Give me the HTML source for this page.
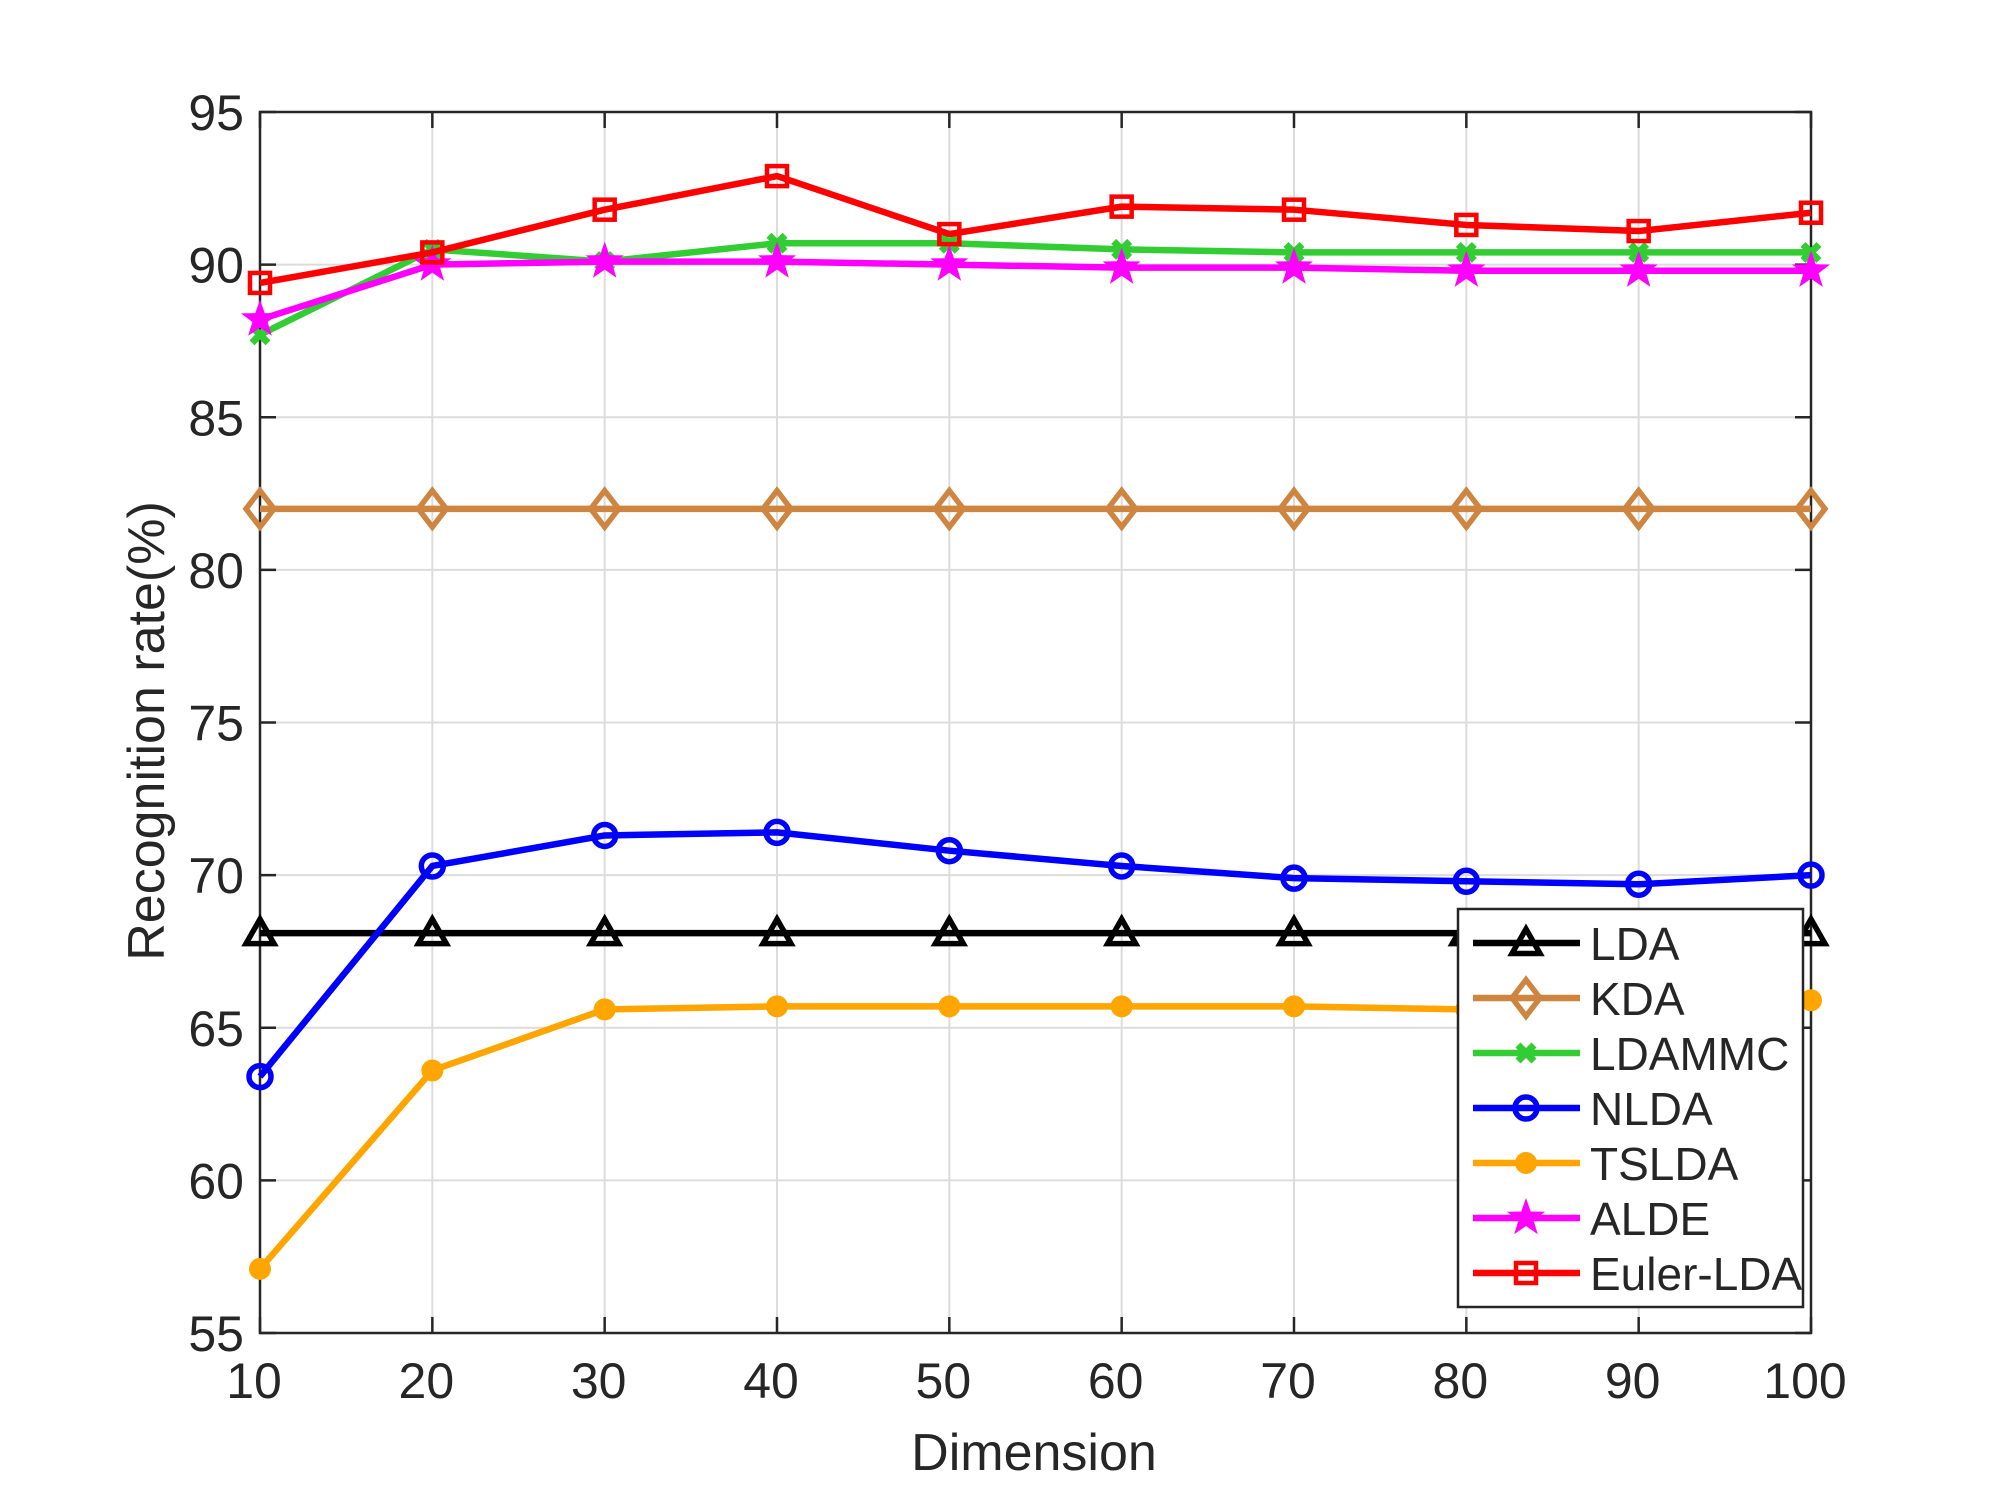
<!DOCTYPE html>
<html><head><meta charset="utf-8"><style>
body{margin:0;background:#fff}
svg{display:block}
text{font-family:"Liberation Sans",Arial,sans-serif;fill:#262626}
</style></head><body>
<svg id="chart" width="2000" height="1499" viewBox="0 0 2000 1499" xmlns="http://www.w3.org/2000/svg">
<rect width="2000" height="1499" fill="#fff"/>
<g id="grid"></g><g id="axes"></g><g id="series"></g><g id="legend"></g>
</svg>
<script>
const dims = [10,20,30,40,50,60,70,80,90,100];
const xTicks = [10,20,30,40,50,60,70,80,90,100];
const yTicks = [55,60,65,70,75,80,85,90,95];
const seriesNames = ["LDA","KDA","LDAMMC","NLDA","TSLDA","ALDE","Euler-LDA"];
const ldaVals = [68.1,68.1,68.1,68.1,68.1,68.1,68.1,68.1,68.1,68.1];
const kdaVals = [82,82,82,82,82,82,82,82,82,82];
const ldammcVals = [87.7,90.5,90.1,90.7,90.7,90.5,90.4,90.4,90.4,90.4];
const nldaVals = [63.4,70.3,71.3,71.4,70.8,70.3,69.9,69.8,69.7,70.0];
const tsldaVals = [57.1,63.6,65.6,65.7,65.7,65.7,65.7,65.6,65.7,65.9];
const aldeVals = [88.2,90.0,90.1,90.1,90.0,89.9,89.9,89.8,89.8,89.8];
const eulerVals = [89.4,90.4,91.8,92.9,91.0,91.9,91.8,91.3,91.1,91.7];

const L=260,R=1811,T=112,B=1333;
const xs=v=>L+(v-10)/90*(R-L);
const ys=v=>B-(v-55)/40*(B-T);
const NS="http://www.w3.org/2000/svg";
function mk(tag,attrs,parent){const e=document.createElementNS(NS,tag);for(const k in attrs)e.setAttribute(k,attrs[k]);parent.appendChild(e);return e;}
const grid=document.getElementById('grid'),axes=document.getElementById('axes'),ser=document.getElementById('series'),leg=document.getElementById('legend');

xTicks.forEach(t=>{
  const g=mk('line',{x1:xs(t),x2:xs(t),y1:T,y2:B,stroke:'#dcdcdc','stroke-width':2},grid);
  
  
  mk('line',{x1:xs(t),x2:xs(t),y1:B,y2:B-16,stroke:'#262626','stroke-width':2.5},axes);
  mk('line',{x1:xs(t),x2:xs(t),y1:T,y2:T+16,stroke:'#262626','stroke-width':2.5},axes);
  const tx=mk('text',{x:xs(t)-6,y:1398,'font-size':50,'text-anchor':'middle'},axes);
  tx.textContent=t;
  
  
});
yTicks.forEach(t=>{
  const g=mk('line',{x1:L,x2:R,y1:ys(t),y2:ys(t),stroke:'#dcdcdc','stroke-width':2},grid);
  
  
  mk('line',{x1:L,x2:L+16,y1:ys(t),y2:ys(t),stroke:'#262626','stroke-width':2.5},axes);
  mk('line',{x1:R,x2:R-16,y1:ys(t),y2:ys(t),stroke:'#262626','stroke-width':2.5},axes);
  const tx=mk('text',{x:244,y:ys(t)+18,'font-size':50,'text-anchor':'end'},axes);
  tx.textContent=t;
  
  
});
const frame=mk('rect',{x:L,y:T,width:R-L,height:B-T,fill:'none',stroke:'#262626','stroke-width':2.5},axes);


const xl=mk('text',{x:1034,y:1470,'font-size':52,'text-anchor':'middle'},axes);xl.textContent='Dimension';


const yl=mk('text',{x:0,y:0,'font-size':52,'text-anchor':'middle',transform:'translate(164,731) rotate(-90)'},axes);yl.textContent='Recognition rate(%)';



function marker(type,x,y,color,p){
  const s=14;
  if(type==='tri') return mk('polygon',{points:`${x},${y-s} ${x-s},${y+s*0.75} ${x+s},${y+s*0.75}`,fill:'none',stroke:color,'stroke-width':5.5},p);
  if(type==='dia') return mk('polygon',{points:`${x},${y-s*1.3} ${x+s},${y} ${x},${y+s*1.3} ${x-s},${y}`,fill:'none',stroke:color,'stroke-width':5.5},p);
  if(type==='x'){const g=mk('g',{},p);mk('path',{d:`M${x-8},${y-8}L${x+8},${y+8}M${x+8},${y-8}L${x-8},${y+8}`,stroke:color,'stroke-width':7},g);return g;}
  if(type==='circ') return mk('circle',{cx:x,cy:y,r:11,fill:'none',stroke:color,'stroke-width':5.5},p);
  if(type==='dot') return mk('circle',{cx:x,cy:y,r:11,fill:color},p);
  if(type==='star'){let pts=[];for(let i=0;i<10;i++){const r=i%2?8:20,a=-Math.PI/2+i*Math.PI/5;pts.push((x+r*Math.cos(a)).toFixed(1)+','+(y+r*Math.sin(a)).toFixed(1));}return mk('polygon',{points:pts.join(' '),fill:color},p);}
  if(type==='sq') return mk('rect',{x:x-10,y:y-10,width:20,height:20,fill:'none',stroke:color,'stroke-width':4.5},p);
}
const specs=[
 [ldaVals,'#000000','tri','lda'],
 [kdaVals,'#cd853f','dia','kda'],
 [ldammcVals,'#32cd32','x','ldammc'],
 [nldaVals,'#0000ff','circ','nlda'],
 [tsldaVals,'#ffa500','dot','tslda'],
 [aldeVals,'#ff00ff','star','alde'],
 [eulerVals,'#ff0000','sq','euler-lda']
];
specs.forEach(([vals,c,m,n])=>{
  const g=mk('g',{},ser);
  
  
  const pl=mk('polyline',{points:vals.map((v,i)=>xs(dims[i])+','+ys(v)).join(' '),fill:'none',stroke:c,'stroke-width':6.5,'stroke-linejoin':'round'},g);
  
  
  vals.forEach((v,i)=>{const mm=marker(m,xs(dims[i]),ys(v),c,g);
    
    });
});
const lb=mk('rect',{x:1458,y:909,width:345,height:398,fill:'#fff',stroke:'#262626','stroke-width':2.5},leg);


specs.forEach(([vals,c,m,n],i)=>{
  const y=943+i*55;
  const g=mk('g',{},leg);
  
  
  mk('line',{x1:1473,x2:1580,y1:y,y2:y,stroke:c,'stroke-width':6.5},g);
  marker(m,1526,y,c,g);
  const t=mk('text',{x:1590,y:y+17,'font-size':46,fill:'#000'},g);
  t.textContent=seriesNames[i];
});
</script>
</body></html>
